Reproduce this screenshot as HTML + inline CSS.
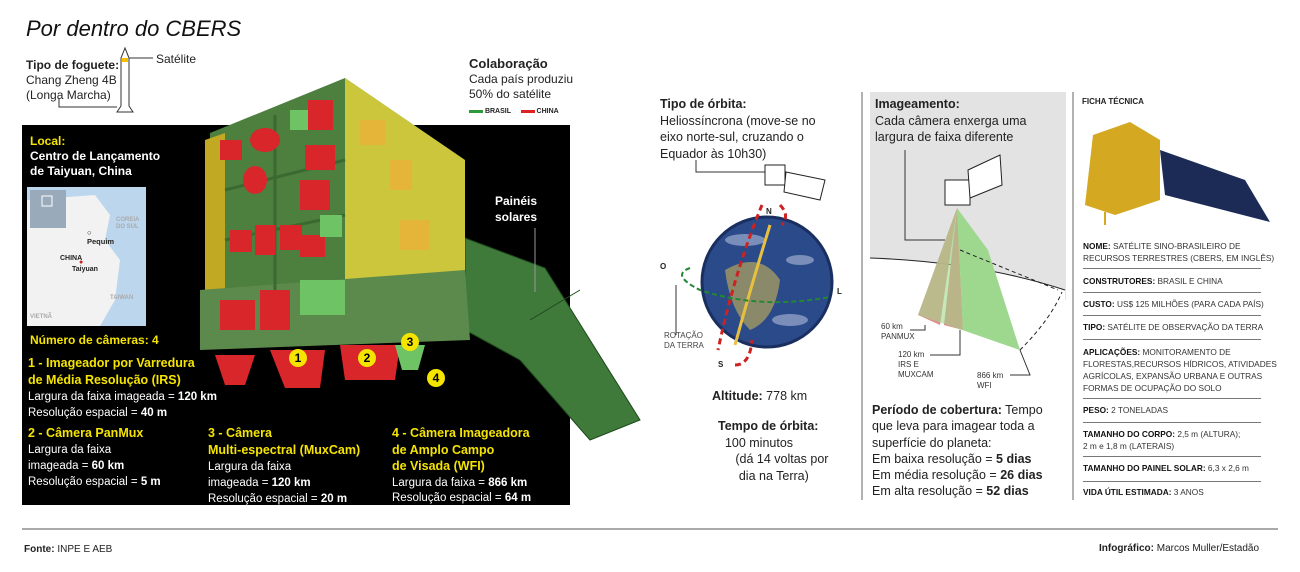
<!DOCTYPE html>
<html><head><meta charset="utf-8"><style>
body{margin:0;width:1300px;height:572px;background:#fff;position:relative;overflow:hidden;font-family:"Liberation Sans",sans-serif;color:#222}
.a{position:absolute;white-space:nowrap}
.b{font-weight:bold}
.y{color:#f5e400}
.w{color:#fff}
.f{font-size:11.5px;line-height:15px}
.ft{font-size:8.3px;line-height:12px;color:#333}
.ft b{color:#111}
.hr{position:absolute;left:1083px;width:178px;border-top:1px solid #777}
</style></head><body>
<div class="a" style="left:26px;top:16px;font-size:22px;font-style:italic;color:#111">Por dentro do CBERS</div>
<div class="a f" style="left:26px;top:58px;font-size:12px"><b>Tipo de foguete:</b><br>Chang Zheng 4B<br>(Longa Marcha)</div>
<div class="a" style="left:156px;top:52px;font-size:12px">Satélite</div>
<div class="a f" style="left:469px;top:56px;font-size:12px"><b style="font-size:13px">Colaboração</b><br>Cada país produziu<br>50% do satélite</div>
<div class="a" style="left:469px;top:108px;font-size:7px;font-weight:bold"><span style="display:inline-block;width:14px;height:3px;background:#2a9a3a;vertical-align:middle"></span> BRASIL &nbsp;&nbsp;&nbsp;&nbsp;<span style="display:inline-block;width:14px;height:3px;background:#d22;vertical-align:middle"></span> CHINA</div>
<svg class="a" style="left:0;top:0" width="1300" height="572">
<path d="M125 48 L121 58 L121 106 L117 112 L133 112 L129 106 L129 58 Z" fill="#fff" stroke="#333"/>
<rect x="122" y="58" width="6" height="4" fill="#f5c000"/>
<line x1="129" y1="58" x2="153" y2="58" stroke="#333"/>
<polyline points="59,98 59,107 117,107" fill="none" stroke="#333"/>
<rect x="22" y="125" width="548" height="380" fill="#000"/>
<rect x="27" y="187" width="119" height="139" fill="#bcd6ee"/>
<path d="M27 200 L95 195 L110 215 L105 240 L120 260 L115 300 L100 326 L27 326 Z" fill="#f2f2f2"/>
<rect x="30" y="190" width="36" height="38" fill="#9ab"/>
<rect x="42" y="196" width="10" height="10" fill="none" stroke="#fff"/>
<polygon points="465,238 545,268 640,420 590,440 520,360 465,330" fill="#3f7a3a" stroke="#1d4a1b"/>
<line x1="530" y1="320" x2="580" y2="290" stroke="#1d4a1b"/>
<polygon points="210,133 345,78 345,320 205,345" fill="#4d7f3f"/>
<polygon points="345,78 465,160 465,300 345,320" fill="#4d7f3f"/>
<g fill="#d8262a">
<rect x="390" y="160" width="22" height="30"/><rect x="360" y="120" width="25" height="25"/><rect x="400" y="220" width="30" height="30"/>
</g>
<polygon points="345,78 465,160 465,300 345,320" fill="#e6d53c" opacity="0.82"/>
<polygon points="205,140 225,133 225,340 205,345" fill="#c2a923"/>
<polygon points="200,290 465,270 470,340 200,350" fill="#5c8a4c"/>
<g stroke="#3a6a30" stroke-width="3"><line x1="225" y1="190" x2="345" y2="160"/><line x1="225" y1="240" x2="345" y2="215"/><line x1="275" y1="115" x2="275" y2="300"/></g>
<g fill="#d8262a">
<rect x="220" y="140" width="22" height="20"/><rect x="308" y="100" width="25" height="30"/><rect x="305" y="145" width="30" height="25"/><rect x="300" y="180" width="30" height="30"/>
<rect x="230" y="230" width="22" height="22"/><rect x="255" y="225" width="20" height="30"/><rect x="280" y="225" width="22" height="25"/><rect x="300" y="235" width="25" height="22"/>
<ellipse cx="265" cy="140" rx="15" ry="12"/><ellipse cx="255" cy="180" rx="12" ry="14"/>
<rect x="260" y="290" width="30" height="40"/><rect x="220" y="300" width="35" height="30"/>
<polygon points="215,355 255,355 245,385 225,385"/><polygon points="270,350 325,350 320,388 285,388"/><polygon points="340,345 400,345 395,380 345,380"/>
</g>
<g fill="#6ec465"><rect x="290" y="110" width="18" height="20"/><rect x="320" y="215" width="22" height="22"/><rect x="300" y="280" width="45" height="35"/><polygon points="395,345 425,345 418,370 402,370"/></g>
<line x1="535" y1="228" x2="535" y2="292" stroke="#999"/>
<g font-family="Liberation Sans" font-weight="bold" font-size="12" text-anchor="middle">
<circle cx="298" cy="358" r="9" fill="#f5e400"/><text x="298" y="362">1</text>
<circle cx="367" cy="358" r="9" fill="#f5e400"/><text x="367" y="362">2</text>
<circle cx="410" cy="342" r="9" fill="#f5e400"/><text x="410" y="346">3</text>
<circle cx="436" cy="378" r="9" fill="#f5e400"/><text x="436" y="382">4</text>
</g>
<line x1="862" y1="92" x2="862" y2="500" stroke="#666"/>
<line x1="1073" y1="92" x2="1073" y2="500" stroke="#666"/>
<line x1="22" y1="529" x2="1278" y2="529" stroke="#555"/>
<rect x="870" y="92" width="196" height="208" fill="#e3e3e3"/>
<path d="M870 258 Q980 262 1065 290 L1065 300 L870 300 Z" fill="#fff"/>
<path d="M870 258 Q980 262 1065 290" fill="none" stroke="#222"/>
<polygon points="957,208 918,315 940,325" fill="#e08080" opacity="0.9"/>
<polygon points="957,208 944,325 963,330" fill="#e08080"/>
<polygon points="957,208 963,330 1020,350 988,250" fill="#9ed88e"/>
<polygon points="957,208 1020,350 918,315" fill="#9ed88e" opacity="0.6"/>
<path d="M1020 350 Q1050 320 1062 292" fill="none" stroke="#222" stroke-dasharray="4 3"/>
<path d="M960 250 L1058 290" fill="none" stroke="#222" stroke-dasharray="4 3"/>
<polyline points="905,150 905,240 945,240" fill="none" stroke="#333"/>
<rect x="945" y="180" width="25" height="25" fill="#fff" stroke="#222"/>
<polygon points="968,170 1000,155 1002,185 970,198" fill="#fff" stroke="#222"/>
<polyline points="925,325 925,330 910,330" fill="none" stroke="#333"/>
<polyline points="960,330 960,355 930,355" fill="none" stroke="#333"/>
<polyline points="1020,350 1030,375 1010,375" fill="none" stroke="#333"/>
<circle cx="767" cy="282" r="65" fill="#2b4a8a"/>
<circle cx="767" cy="282" r="65" fill="none" stroke="#1a2f60" stroke-width="3"/>
<path d="M725 270 Q760 250 780 280 Q775 320 750 330 Q730 310 725 270Z" fill="#8a8a6a"/>
<g fill="#c8d2e8" opacity="0.5"><ellipse cx="745" cy="240" rx="20" ry="6"/><ellipse cx="800" cy="260" rx="14" ry="5"/><ellipse cx="790" cy="320" rx="18" ry="6"/></g>
<path d="M770 225 Q750 290 735 345" fill="none" stroke="#e8c040" stroke-width="3"/>
<path d="M762 205 Q735 270 718 350" fill="none" stroke="#c22" stroke-width="3" stroke-dasharray="6 4"/>
<path d="M780 205 Q790 215 782 225 M735 365 Q750 365 752 340" fill="none" stroke="#c22" stroke-width="3" stroke-dasharray="6 4"/>
<path d="M690 268 Q670 275 700 290 Q760 310 830 297" fill="none" stroke="#283" stroke-width="2" stroke-dasharray="5 3"/>
<polyline points="676,285 676,335" fill="none" stroke="#333"/>
<polyline points="696,160 696,172 765,172" fill="none" stroke="#333"/>
<rect x="765" y="165" width="20" height="20" fill="#fff" stroke="#222"/>
<polygon points="786,172 825,180 820,200 784,192" fill="#fff" stroke="#222"/>
<polygon points="1093,135 1130,122 1160,140 1160,200 1115,215 1085,205" fill="#d4a820"/>
<polygon points="1160,150 1245,180 1270,222 1165,195" fill="#1c2b55"/>
<line x1="1105" y1="212" x2="1105" y2="225" stroke="#d4a820" stroke-width="2"/>
</svg>
<div class="a b" style="left:495px;top:193px;color:#fff;font-size:12px;line-height:16px">Painéis<br>solares</div>
<div class="a b f" style="left:30px;top:134px;font-size:12px"><span class="y">Local:</span><br><span class="w">Centro de Lançamento<br>de Taiyuan, China</span></div>
<div class="a b" style="left:87px;top:228px;font-size:7.5px">○<br>Pequim</div>
<div class="a b" style="left:79px;top:259px;font-size:7px;color:#c22">●</div>
<div class="a b" style="left:72px;top:266px;font-size:7px">Taiyuan</div>
<div class="a b" style="left:116px;top:217px;font-size:6px;color:#aaa;line-height:7px">COREIA<br>DO SUL</div>
<div class="a b" style="left:60px;top:255px;font-size:7px">CHINA</div>
<div class="a b" style="left:110px;top:295px;font-size:6px;color:#aaa">TAIWAN</div>
<div class="a b" style="left:30px;top:314px;font-size:6px;color:#aaa">VIETNÃ</div>
<div class="a b y" style="left:30px;top:333px;font-size:12px">Número de câmeras: 4</div>
<div class="a f w" style="left:28px;top:355px;font-size:11.5px;line-height:16px"><b class="y" style="font-size:12.5px">1 - Imageador por Varredura<br>de Média Resolução (IRS)</b><br>Largura da faixa imageada = <b>120 km</b><br>Resolução espacial = <b>40 m</b></div>
<div class="a f w" style="left:28px;top:425px;line-height:16px"><b class="y" style="font-size:12.5px">2 - Câmera PanMux</b><br>Largura da faixa<br>imageada = <b>60 km</b><br>Resolução espacial = <b>5 m</b></div>
<div class="a f w" style="left:208px;top:425px;line-height:16px"><b class="y" style="font-size:12.5px">3 - Câmera<br>Multi-espectral (MuxCam)</b><br>Largura da faixa<br>imageada = <b>120 km</b><br>Resolução espacial = <b>20 m</b></div>
<div class="a f w" style="left:392px;top:426px;line-height:15.5px"><b class="y" style="font-size:12.5px">4 - Câmera Imageadora<br>de Amplo Campo<br>de Visada (WFI)</b><br>Largura da faixa = <b>866 km</b><br>Resolução espacial = <b>64 m</b></div>
<div class="a" style="left:660px;top:96px;font-size:12.5px;line-height:16.5px"><b>Tipo de órbita:</b><br>Heliossíncrona (move-se no<br>eixo norte-sul, cruzando o<br>Equador às 10h30)</div>
<div class="a b" style="left:766px;top:207px;font-size:8px">N</div>
<div class="a b" style="left:660px;top:262px;font-size:8px">O</div>
<div class="a b" style="left:837px;top:287px;font-size:8px">L</div>
<div class="a b" style="left:718px;top:360px;font-size:8px">S</div>
<div class="a" style="left:664px;top:331px;font-size:8px;line-height:10px;color:#444">ROTAÇÃO<br>DA TERRA</div>
<div class="a" style="left:712px;top:389px;font-size:12.5px"><b>Altitude:</b> 778 km</div>
<div class="a" style="left:718px;top:418px;font-size:12.5px;line-height:16.5px"><b>Tempo de órbita:</b><br>&nbsp;&nbsp;100 minutos<br>&nbsp;&nbsp;&nbsp;&nbsp;&nbsp;(dá 14 voltas por<br>&nbsp;&nbsp;&nbsp;&nbsp;&nbsp;&nbsp;dia na Terra)</div>
<div class="a" style="left:875px;top:96px;font-size:12.5px;line-height:16.5px"><b>Imageamento:</b><br>Cada câmera enxerga uma<br>largura de faixa diferente</div>
<div class="a" style="left:881px;top:322px;font-size:8px;line-height:10px;color:#333">60 km<br>PANMUX</div>
<div class="a" style="left:898px;top:350px;font-size:8px;line-height:10px;color:#333">120 km<br>IRS E<br>MUXCAM</div>
<div class="a" style="left:977px;top:371px;font-size:8px;line-height:10px;color:#333">866 km<br>WFI</div>
<div class="a" style="left:872px;top:402px;font-size:12.5px;line-height:16.3px"><b>Período de cobertura:</b> Tempo<br>que leva para imagear toda a<br>superfície do planeta:<br>Em baixa resolução = <b>5 dias</b><br>Em média resolução = <b>26 dias</b><br>Em alta resolução = <b>52 dias</b></div>
<div class="a b" style="left:1082px;top:97px;font-size:8px">FICHA TÉCNICA</div>
<div class="a ft" style="left:1083px;top:240px"><b>NOME:</b> SATÉLITE SINO-BRASILEIRO DE<br>RECURSOS TERRESTRES (CBERS, EM INGLÊS)</div>
<div class="hr" style="top:268px"></div>
<div class="a ft" style="left:1083px;top:275px"><b>CONSTRUTORES:</b> BRASIL E CHINA</div>
<div class="hr" style="top:292px"></div>
<div class="a ft" style="left:1083px;top:298px"><b>CUSTO:</b> US$ 125 MILHÕES (PARA CADA PAÍS)</div>
<div class="hr" style="top:315px"></div>
<div class="a ft" style="left:1083px;top:321px"><b>TIPO:</b> SATÉLITE DE OBSERVAÇÃO DA TERRA</div>
<div class="hr" style="top:339px"></div>
<div class="a ft" style="left:1083px;top:346px"><b>APLICAÇÕES:</b> MONITORAMENTO DE<br>FLORESTAS,RECURSOS HÍDRICOS, ATIVIDADES<br>AGRÍCOLAS, EXPANSÃO URBANA E OUTRAS<br>FORMAS DE OCUPAÇÃO DO SOLO</div>
<div class="hr" style="top:398px"></div>
<div class="a ft" style="left:1083px;top:404px"><b>PESO:</b> 2 TONELADAS</div>
<div class="hr" style="top:422px"></div>
<div class="a ft" style="left:1083px;top:428px"><b>TAMANHO DO CORPO:</b> 2,5 m (ALTURA);<br>2 m e 1,8 m (LATERAIS)</div>
<div class="hr" style="top:456px"></div>
<div class="a ft" style="left:1083px;top:462px"><b>TAMANHO DO PAINEL SOLAR:</b> 6,3 x 2,6 m</div>
<div class="hr" style="top:481px"></div>
<div class="a ft" style="left:1083px;top:486px"><b>VIDA ÚTIL ESTIMADA:</b> 3 ANOS</div>
<div class="a" style="left:24px;top:544px;font-size:10px"><b>Fonte:</b> INPE E AEB</div>
<div class="a" style="left:1099px;top:543px;font-size:10px"><b>Infográfico:</b> Marcos Muller/Estadão</div>
</body></html>
